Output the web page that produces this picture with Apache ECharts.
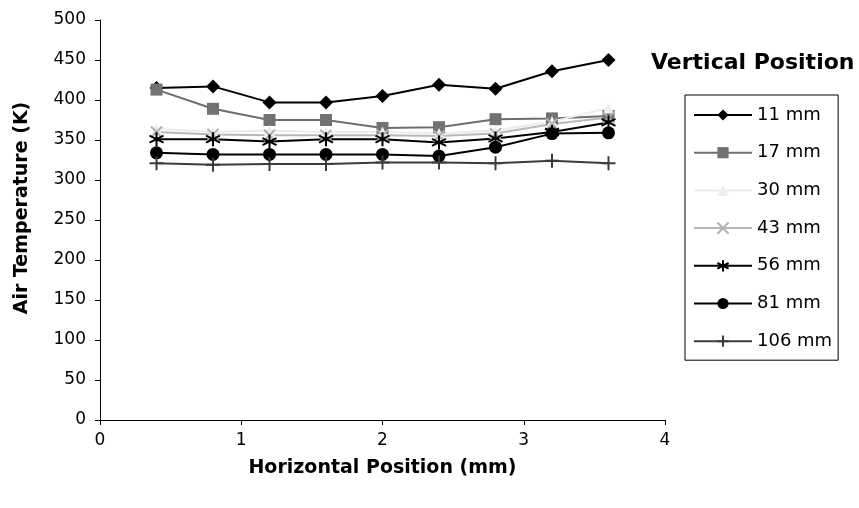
<!DOCTYPE html>
<html>
<head>
<meta charset="utf-8">
<script src="https://cdn.jsdelivr.net/npm/echarts@6/dist/echarts.min.js"></script>
<style>
  html, body { margin: 0; padding: 0; background: #fff; }
  #chart { width: 859px; height: 508px; }
</style>
</head>
<body>
<div id="chart"></div>
<script>
// horizontal positions (mm)
var positions = [0.4, 0.8, 1.2, 1.6, 2.0, 2.4, 2.8, 3.2, 3.6]
// air temperature (K) per vertical position
var t11 = [415, 417, 397, 397, 405, 419, 414, 436, 450]
var t17 = [413, 389, 375, 375, 365, 366, 376, 377, 380]
var t30 = [364, 360, 362, 360, 360, 358, 362, 373, 390]
var t43 = [360, 357, 356, 356, 356, 355, 358, 370, 378]
var t56 = [351, 351, 348, 351, 351, 347, 352, 360, 372]
var t81 = [334, 332, 332, 332, 332, 330, 341, 358, 359]
var t106 = [321, 319, 320, 320, 322, 322, 321, 324, 321]
var seriesNames = ['11 mm', '17 mm', '30 mm', '43 mm', '56 mm', '81 mm', '106 mm']
var xTicks = [0, 1, 2, 3, 4]
var yTicks = [0, 50, 100, 150, 200, 250, 300, 350, 400, 450, 500]

function pairs(vals) {
  return positions.map(function(x, i) { return [x, vals[i]] })
}

var chart = echarts.init(document.getElementById('chart'))

// stroked marker shapes
var xSym = 'path://M0,0L10,10M10,0L0,10'
var starSym = 'path://M5,0L5,10M0,2.5L10,7.5M10,2.5L0,7.5'
var plusSym = 'path://M5,0L5,10M0,5L10,5'

function strokeStyle(color) {
  return { color: 'none', borderColor: color, borderWidth: 2 }
}

var option = {
  animation: false,
  textStyle: { fontFamily: 'DejaVu Sans, sans-serif' },
  title: {
    text: 'Vertical Position',
    left: 646,
    top: 47,
    textStyle: { fontSize: 22, fontWeight: 'bold', color: '#000' }
  },
  // y axis title sits a bit above the plot centre in the reference
  graphic: [{
    type: 'text',
    x: 22,
    y: 208,
    rotation: Math.PI / 2,
    style: {
      text: 'Air Temperature (K)',
      fontSize: 19,
      fontWeight: 'bold',
      fontFamily: 'DejaVu Sans, sans-serif',
      fill: '#000',
      align: 'center',
      verticalAlign: 'middle'
    }
  }],
  legend: {
    orient: 'vertical',
    left: 685,
    top: 95,
    padding: [11, 6, 10, 8],
    itemWidth: 58,
    itemHeight: 14,
    itemGap: 19.7,
    borderColor: '#000',
    borderWidth: 1,
    textStyle: { fontSize: 18, color: '#000' },
    data: seriesNames
  },
  grid: { left: 100, right: 194, top: 20, bottom: 88 },
  xAxis: {
    type: 'value',
    min: 0,
    max: 4,
    interval: 1,
    name: 'Horizontal Position (mm)',
    nameLocation: 'middle',
    nameGap: 39,
    nameTextStyle: { fontSize: 19, fontWeight: 'bold', color: '#000' },
    axisLine: { lineStyle: { color: '#000', width: 1 } },
    axisTick: { length: 5, lineStyle: { color: '#000' } },
    axisLabel: {
      fontSize: 17, color: '#000', margin: 12,
      formatter: function(v) { return xTicks.indexOf(v) >= 0 ? String(v) : '' }
    },
    splitLine: { show: false }
  },
  yAxis: {
    type: 'value',
    min: 0,
    max: 500,
    interval: 50,
    axisLine: { show: true, lineStyle: { color: '#000', width: 1 } },
    axisTick: { show: true, length: 5, lineStyle: { color: '#000' } },
    axisLabel: {
      fontSize: 17, color: '#000', margin: 14,
      formatter: function(v) { return yTicks.indexOf(v) >= 0 ? String(v) : '' }
    },
    splitLine: { show: false }
  },
  series: [
    {
      name: '11 mm', type: 'line', data: pairs(t11),
      symbol: 'diamond', symbolSize: 14,
      lineStyle: { color: '#000', width: 2 },
      itemStyle: { color: '#000' }
    },
    {
      name: '17 mm', type: 'line', data: pairs(t17),
      symbol: 'rect', symbolSize: 12,
      lineStyle: { color: '#6e6e6e', width: 2 },
      itemStyle: { color: '#727272' }
    },
    {
      name: '30 mm', type: 'line', data: pairs(t30),
      symbol: 'triangle', symbolSize: 11,
      lineStyle: { color: '#ececec', width: 2 },
      itemStyle: { color: '#eeeeee' }
    },
    {
      name: '43 mm', type: 'line', data: pairs(t43),
      symbol: xSym, symbolSize: 11,
      lineStyle: { color: '#b8b8b8', width: 2 },
      itemStyle: strokeStyle('#b0b0b0')
    },
    {
      name: '56 mm', type: 'line', data: pairs(t56),
      symbol: starSym, symbolSize: 14,
      lineStyle: { color: '#000', width: 2 },
      itemStyle: strokeStyle('#000')
    },
    {
      name: '81 mm', type: 'line', data: pairs(t81),
      symbol: 'circle', symbolSize: 13,
      lineStyle: { color: '#000', width: 2 },
      itemStyle: { color: '#000' }
    },
    {
      name: '106 mm', type: 'line', data: pairs(t106),
      symbol: plusSym, symbolSize: 14,
      lineStyle: { color: '#3c3c3c', width: 2 },
      itemStyle: strokeStyle('#3c3c3c')
    }
  ]
}

chart.setOption(option)
</script>
</body>
</html>
